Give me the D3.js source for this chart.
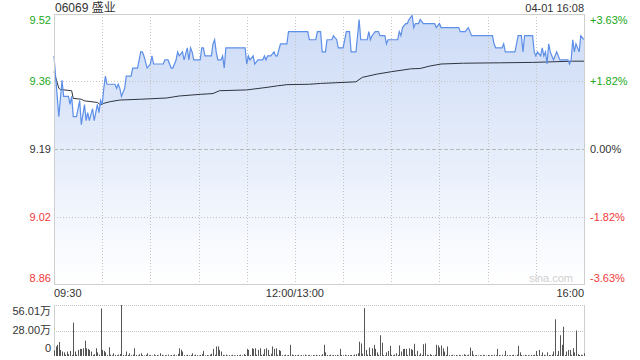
<!DOCTYPE html>
<html>
<head>
<meta charset="utf-8">
<script src="https://cdnjs.cloudflare.com/ajax/libs/d3/7.8.5/d3.min.js"></script>
<style>
  body { margin: 0; background: #fff; }
  svg { display: block; font-family: "Liberation Sans", Arial, "Noto Sans CJK SC", sans-serif; }
</style>
</head>
<body>
<div id="chart"></div>
<script>
// 06069 盛业 intraday, 04-01
var title = "06069 盛业";
var stamp = "04-01 16:08";
var prevClose = 9.19;
var pctTicks = [3.63, 1.82, 0, -1.82, -3.63];
var timeTicks = [0, 150, 330];
var timeLabels = ["09:30", "12:00/13:00", "16:00"];

// price: trading minute (from 09:30) -> price
var priceMinutes = [0,3,5,6,9,10,11,12,14,16,17,19,20,21,22,24,25,26,27,28,29,30,31,32,33,38,39,40,41,42,44,45,48,49,52,54,55,56,58,60,61,62,68,69,71,73,74,76,77,78,80,81,83,84,85,86,87,91,92,93,94,98,99,100,101,102,104,105,106,107,119,120,121,122,124,125,127,128,130,131,132,133,134,135,137,138,139,141,145,146,158,159,163,164,166,167,169,170,173,174,176,177,180,182,184,185,188,190,191,195,196,197,198,200,202,203,204,206,207,208,214,215,216,217,219,220,221,223,224,225,227,228,230,237,238,240,241,252,253,256,258,259,260,273,274,275,279,280,281,287,288,289,291,292,293,298,299,300,301,303,304,305,306,307,308,309,311,313,315,318,320,321,322,323,324,325,327,328,330];
var prices = [9.42,9.27,9.36,9.32,9.32,9.30,9.32,9.27,9.27,9.31,9.25,9.30,9.26,9.28,9.26,9.29,9.26,9.28,9.30,9.28,9.31,9.30,9.34,9.37,9.35,9.35,9.34,9.35,9.34,9.32,9.34,9.37,9.37,9.39,9.39,9.43,9.43,9.42,9.39,9.40,9.42,9.40,9.40,9.41,9.41,9.39,9.39,9.41,9.43,9.42,9.43,9.41,9.44,9.41,9.44,9.43,9.41,9.41,9.44,9.44,9.42,9.42,9.45,9.46,9.43,9.41,9.41,9.42,9.39,9.44,9.44,9.40,9.42,9.41,9.42,9.40,9.41,9.41,9.41,9.42,9.41,9.42,9.42,9.42,9.43,9.42,9.42,9.45,9.45,9.48,9.48,9.46,9.46,9.48,9.48,9.43,9.43,9.46,9.46,9.47,9.46,9.44,9.44,9.48,9.48,9.43,9.43,9.51,9.46,9.46,9.48,9.46,9.47,9.48,9.48,9.47,9.47,9.47,9.45,9.46,9.46,9.48,9.47,9.49,9.50,9.50,9.51,9.52,9.49,9.50,9.50,9.51,9.50,9.50,9.49,9.50,9.49,9.49,9.48,9.48,9.49,9.48,9.47,9.47,9.45,9.44,9.44,9.45,9.43,9.43,9.45,9.47,9.47,9.43,9.47,9.47,9.43,9.42,9.43,9.42,9.44,9.42,9.43,9.40,9.45,9.43,9.41,9.43,9.41,9.41,9.41,9.40,9.41,9.46,9.43,9.45,9.43,9.47,9.46];

// average price line
var avgMinutes = [0,3,4,11,12,17,19,27,29,31,35,41,54,70,78,91,99,103,120,132,139,145,159,166,188,192,201,210,222,228,234,241,255,278,298,323,330];
var avgPrices = [9.381,9.340,9.337,9.334,9.315,9.313,9.309,9.305,9.299,9.303,9.307,9.311,9.313,9.316,9.321,9.325,9.327,9.334,9.336,9.342,9.346,9.349,9.350,9.352,9.356,9.367,9.375,9.381,9.388,9.389,9.395,9.400,9.402,9.403,9.404,9.407,9.407];

// volume per minute, in 万
var volumes = [
  6.0,10.5,12.3,15.3,6.7,4.9,4.0,1.5,4.9,2.0,
  5.6,1.2,36.6,4.9,1.5,6.7,7.8,7.8,8.5,16.8,
  8.5,7.8,6.7,4.9,1.2,2.0,8.5,4.0,1.5,52.3,
  6.7,5.6,4.0,1.0,9.6,1.5,0.8,3.0,1.2,0.9,
  1.5,2.2,56.01,1.3,0.9,4.9,1.1,3.0,0.8,1.6,
  8.5,1.2,0.7,1.9,3.0,1.0,0.6,1.4,3.0,0.9,
  1.2,0.5,1.8,0.8,1.1,0.6,3.0,1.3,0.7,1.0,
  0.8,1.5,0.6,1.2,0.9,1.7,0.7,2.4,8.5,6.7,
  4.9,1.0,0.6,1.3,0.8,1.1,3.0,0.7,1.4,0.9,
  0.6,1.2,2.0,5.6,0.8,1.1,0.7,1.6,2.5,7.8,
  1.4,10.5,10.5,6.7,4.9,1.2,0.8,1.5,0.6,1.0,
  0.7,1.3,0.9,0.6,1.1,0.8,1.4,0.7,2.2,1.0,
  7.8,6.7,1.2,8.5,7.8,8.5,1.5,6.7,8.5,1.3,
  2.0,7.5,8.5,6.7,1.1,2.5,10.5,7.8,8.5,1.4,
  6.7,5.6,1.0,0.8,1.5,0.7,1.2,12.3,1.6,0.9,
  1.1,0.7,1.3,0.6,1.0,0.8,1.5,0.7,0.9,1.2,
  0.6,1.0,0.8,1.3,0.7,1.1,0.6,2.0,12.3,4.0,
  1.2,0.8,1.5,0.7,1.0,0.9,1.3,0.6,7.8,1.1,
  0.8,1.4,0.7,1.0,0.9,1.2,0.6,1.5,2.0,3.0,
  15.7,13.8,2.5,52.6,6.7,1.5,9.3,1.2,8.5,12.3,
  7.8,4.0,1.4,22.8,14.6,1.0,0.8,4.0,5.6,11.2,
  1.3,0.9,1.6,3.0,1.1,11.6,4.9,7.8,7.8,7.8,
  1.2,8.5,7.5,6.7,13.4,1.5,5.6,1.0,3.0,1.2,
  13.0,13.8,1.4,0.9,2.0,1.1,0.7,1.3,12.3,11.6,
  9.3,11.6,8.5,4.9,1.2,10.5,1.0,0.8,1.4,0.7,
  1.1,0.6,1.3,0.9,0.7,2.0,1.2,0.8,1.5,9.3,
  5.6,1.4,0.8,1.1,0.6,1.0,0.7,1.3,0.9,0.6,
  1.2,0.8,1.0,0.7,1.4,0.9,7.8,1.1,0.6,1.3,
  0.8,5.6,1.2,0.7,1.0,0.9,1.4,0.6,1.5,11.2,
  4.0,1.1,0.7,1.3,0.8,1.0,0.6,1.2,0.9,1.4,
  5.6,1.0,6.7,0.8,4.0,1.3,0.7,4.0,1.1,0.9,
  1.5,4.9,40.3,1.2,5.6,22.8,12.3,32.1,1.0,4.9,
  6.7,6.7,1.3,8.5,4.0,28.0,2.0,1.1,1.4,0.9,
  3.0
];
var volTicks = [56.01, 28.00, 0];
var volLabels = ["56.01万", "28.00万", "0"];

var width = 640, height = 360;
var plotLeft = 54, plotRight = 584;
var plotTop = 14, plotBottom = 284;
var volTop = 305, volBottom = 356;

var green = "#22a822", red = "#f03a3a", dark = "#333";

var svg = d3.select("#chart").append("svg")
    .attr("width", width)
    .attr("height", height);

var x = d3.scaleLinear().domain([0, 330]).range([plotLeft, plotRight]);
var yMax = prevClose * (1 + 3.63 / 100), yMin = prevClose * (1 - 3.63 / 100);
var y = d3.scaleLinear().domain([yMin, yMax]).range([plotBottom, plotTop]);
var yv = d3.scaleLinear().domain([0, d3.max(volumes)]).range([volBottom, volTop]);

// gradient for area
var grad = svg.append("defs").append("linearGradient")
    .attr("id", "fillGrad")
    .attr("gradientUnits", "userSpaceOnUse")
    .attr("x1", 0).attr("y1", plotTop).attr("x2", 0).attr("y2", plotBottom);
grad.append("stop").attr("offset", "0%").attr("stop-color", "#cbdaf6");
grad.append("stop").attr("offset", "100%").attr("stop-color", "#ffffff");

var priceData = priceMinutes.map(function(m, i) { return [m, prices[i]]; });
var avgData = avgMinutes.map(function(m, i) { return [m, avgPrices[i]]; });

// area under price
var area = d3.area()
    .x(function(d) { return x(d[0]); })
    .y0(plotBottom)
    .y1(function(d) { return y(d[1]); });

svg.append("path")
    .datum(priceData)
    .attr("d", area)
    .attr("fill", "url(#fillGrad)");

// vertical grid (every 30 min)
var vGrid = d3.range(30, 330, 30);
svg.append("g").selectAll("line")
    .data(vGrid)
    .enter().append("line")
    .attr("x1", function(d) { return Math.round(x(d)) + 0.5; })
    .attr("x2", function(d) { return Math.round(x(d)) + 0.5; })
    .attr("y1", plotTop).attr("y2", plotBottom)
    .attr("stroke", "#c4c4c4")
    .attr("stroke-dasharray", "1,2");

// horizontal grid
svg.append("g").selectAll("line")
    .data(pctTicks.slice(1, 4))
    .enter().append("line")
    .attr("x1", plotLeft).attr("x2", plotRight)
    .attr("y1", function(d) { return Math.round(y(prevClose * (1 + d / 100))) + 0.5; })
    .attr("y2", function(d) { return Math.round(y(prevClose * (1 + d / 100))) + 0.5; })
    .attr("stroke", function(d) { return d === 0 ? "#b8b8b8" : "#c4c4c4"; })
    .attr("stroke-dasharray", function(d) { return d === 0 ? "4,2" : "1,2"; });

// price line + avg line
var line = d3.line()
    .x(function(d) { return x(d[0]); })
    .y(function(d) { return y(d[1]); });

svg.append("path")
    .datum(avgData)
    .attr("d", line)
    .attr("fill", "none")
    .attr("stroke", "#2e3440")
    .attr("stroke-width", 1);

svg.append("path")
    .datum(priceData)
    .attr("d", line)
    .attr("fill", "none")
    .attr("stroke", "#5d8fe8")
    .attr("stroke-width", 1.2);

// frame
svg.append("rect")
    .attr("x", plotLeft + 0.5).attr("y", plotTop + 0.5)
    .attr("width", plotRight - plotLeft).attr("height", plotBottom - plotTop)
    .attr("fill", "none")
    .attr("stroke", "#cfcfcf");

// watermark
svg.append("text")
    .attr("x", plotRight - 11).attr("y", plotBottom - 2)
    .attr("text-anchor", "end")
    .attr("font-size", 11)
    .attr("fill", "#d0d0d0")
    .text("sina.com");

// title + stamp
svg.append("text")
    .attr("x", plotLeft + 1).attr("y", 12)
    .attr("font-size", 12)
    .attr("fill", dark)
    .text(title);

svg.append("text")
    .attr("x", plotRight).attr("y", 12)
    .attr("text-anchor", "end")
    .attr("font-size", 11)
    .attr("fill", dark)
    .text(stamp);

function tickColor(p) { return p > 0 ? green : (p < 0 ? red : dark); }
function labelShift(i, n) { return i === 0 ? 6 : (i === n - 1 ? -6 : 0); }

// left price labels
svg.append("g").selectAll("text")
    .data(pctTicks)
    .enter().append("text")
    .attr("x", plotLeft - 3)
    .attr("y", function(d, i) { return y(prevClose * (1 + d / 100)) + labelShift(i, pctTicks.length); })
    .attr("dy", "0.35em")
    .attr("text-anchor", "end")
    .attr("font-size", 11)
    .attr("fill", tickColor)
    .text(function(d) { return (prevClose * (1 + d / 100)).toFixed(2); });

// right pct labels
svg.append("g").selectAll("text")
    .data(pctTicks)
    .enter().append("text")
    .attr("x", plotRight + 6)
    .attr("y", function(d, i) { return y(prevClose * (1 + d / 100)) + labelShift(i, pctTicks.length); })
    .attr("dy", "0.35em")
    .attr("font-size", 11)
    .attr("fill", tickColor)
    .text(function(d) { return (d > 0 ? "+" : "") + d.toFixed(2) + "%"; });

// time labels
svg.append("g").selectAll("text")
    .data(timeTicks)
    .enter().append("text")
    .attr("x", function(d) { return x(d); })
    .attr("y", 293)
    .attr("dy", "0.35em")
    .attr("text-anchor", function(d, i) { return i === 0 ? "start" : (i === timeTicks.length - 1 ? "end" : "middle"); })
    .attr("font-size", 11)
    .attr("fill", dark)
    .text(function(d, i) { return timeLabels[i]; });

// volume panel
svg.append("g").selectAll("line")
    .data(volTicks.slice(0, 2))
    .enter().append("line")
    .attr("x1", plotLeft).attr("x2", plotRight)
    .attr("y1", function(d) { return Math.round(yv(d)) + 0.5; })
    .attr("y2", function(d) { return Math.round(yv(d)) + 0.5; })
    .attr("stroke", "#c4c4c4")
    .attr("stroke-dasharray", "1,1");

svg.append("g").selectAll("line")
    .data([plotLeft, plotRight])
    .enter().append("line")
    .attr("x1", function(d) { return d + 0.5; })
    .attr("x2", function(d) { return d + 0.5; })
    .attr("y1", volTop).attr("y2", volBottom)
    .attr("stroke", "#cfcfcf");

svg.append("g").selectAll("rect")
    .data(volumes)
    .enter().append("rect")
    .attr("x", function(d, i) { return Math.round(x(i)); })
    .attr("y", function(d) { return yv(d); })
    .attr("width", 1)
    .attr("height", function(d) { return volBottom - yv(d); })
    .attr("fill", "#555");

var volShift = [6, 0, -8];
svg.append("g").selectAll("text")
    .data(volTicks)
    .enter().append("text")
    .attr("x", plotLeft - 3)
    .attr("y", function(d, i) { return yv(d) + volShift[i]; })
    .attr("dy", "0.35em")
    .attr("text-anchor", "end")
    .attr("font-size", 11)
    .attr("fill", dark)
    .text(function(d, i) { return volLabels[i]; });
</script>
</body>
</html>
